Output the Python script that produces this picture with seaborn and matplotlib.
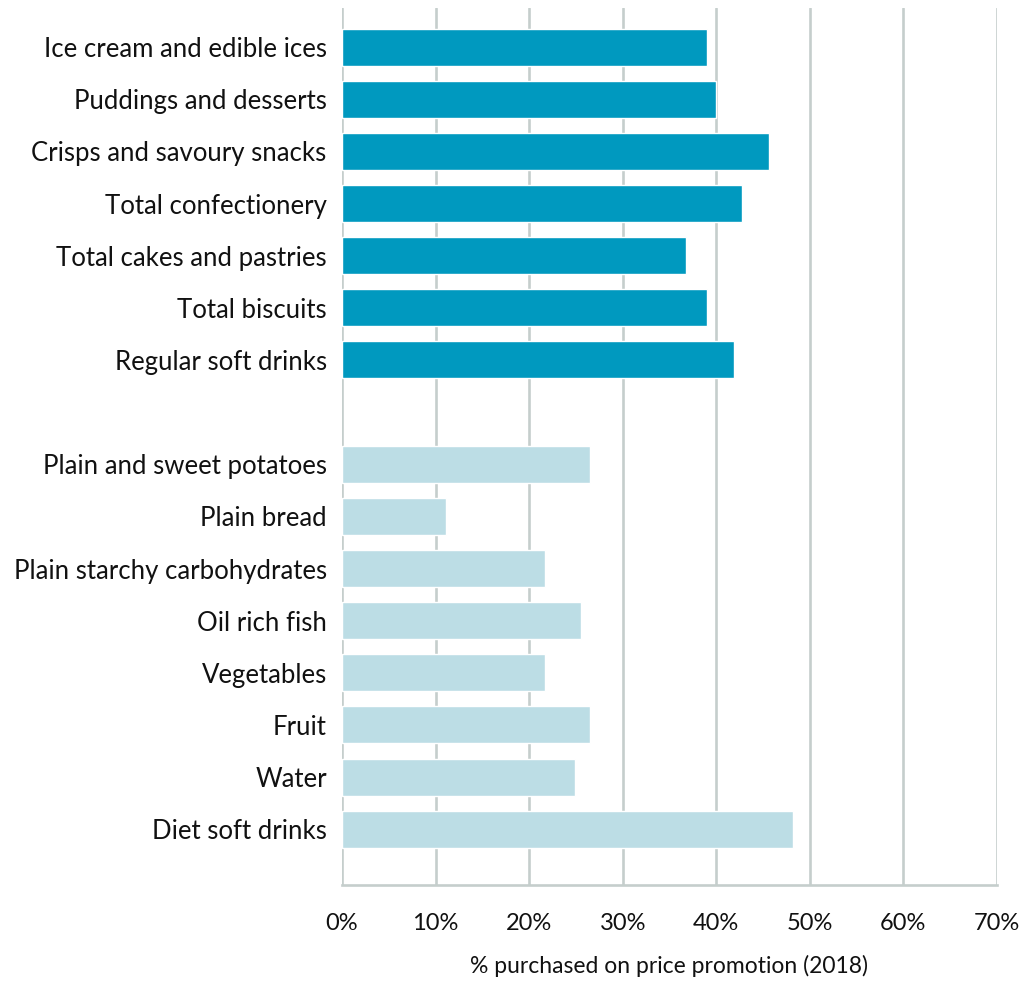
import pandas as pd
import matplotlib.pyplot as plt
import seaborn as sns
from matplotlib.ticker import PercentFormatter

#------------------------------------------
unhealthy=['Ice cream and edible ices', 'Puddings and desserts', 'Crisps and savoury snacks',
           'Total confectionery', 'Total cakes and pastries', 'Total biscuits', 'Regular soft drinks']
unhealthy_val=[39.0, 40.0, 45.6, 42.7, 36.8, 39.0, 41.9]

healthy=['Plain and sweet potatoes', 'Plain bread', 'Plain starchy carbohydrates', 'Oil rich fish',
         'Vegetables', 'Fruit', 'Water', 'Diet soft drinks']
healthy_val=[26.5, 11.1, 21.7, 25.5, 21.7, 26.5, 24.9, 48.2]

xticks=[0, 10, 20, 30, 40, 50, 60, 70]
xlabel='% purchased on price promotion (2018)'

c_dark='#0099bf'
c_light='#bcdde5'
c_grid='#c5cecc'

######################################################
df=pd.DataFrame({'cat': unhealthy+healthy,
                 'val': unhealthy_val+healthy_val,
                 'grp': ['hi']*len(unhealthy)+['lo']*len(healthy)})
order=unhealthy+[' ']+healthy

sns.set_style('white')
plt.rcParams['font.family']=['Lato', 'DejaVu Sans']

fig=plt.figure(figsize=(10.26, 9.84), dpi=100)
ax=fig.add_axes([342/1026, 99/984, 655/1026, 877/984])

sns.barplot(data=df, x='val', y='cat', hue='grp', order=order, dodge=False,
            palette={'hi': c_dark, 'lo': c_light}, width=0.71, saturation=1,
            legend=False, ax=ax, zorder=3)

#adjust
ax.set_xlim(0, 70)
ax.set_ylim(16.07, -0.75)
ax.set_xticks(xticks)
ax.xaxis.set_major_formatter(PercentFormatter(decimals=0))
for x in xticks:
    ax.axvline(x, color=c_grid, lw=1.9, zorder=1)
for s in ['top', 'right', 'left']:
    ax.spines[s].set_visible(False)
ax.spines['bottom'].set_color(c_grid)
ax.spines['bottom'].set_linewidth(1.9)
ax.tick_params(axis='both', length=0)
ax.tick_params(axis='x', pad=20, labelsize=17, colors='#111111')
ax.tick_params(axis='y', pad=11, labelsize=18.5, colors='#111111')
ax.set_ylabel('')
ax.set_xlabel(xlabel, fontsize=16.5, labelpad=15, color='#111111')

#save
fig.savefig('out.png', dpi=100)
plt.close()
